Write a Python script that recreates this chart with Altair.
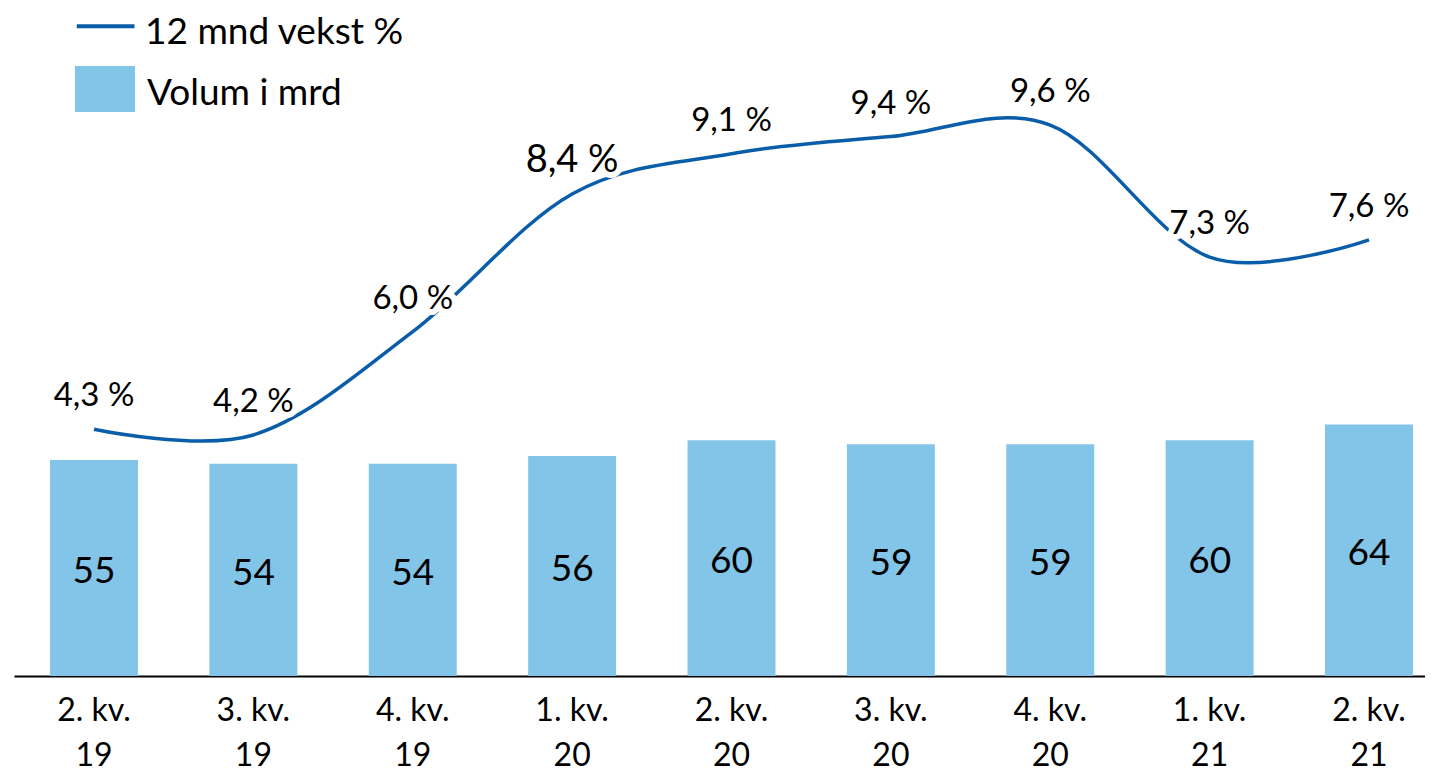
import altair as alt
import pandas as pd

quarters = ["2. kv. 19", "3. kv. 19", "4. kv. 19", "1. kv. 20", "2. kv. 20",
            "3. kv. 20", "4. kv. 20", "1. kv. 21", "2. kv. 21"]
volum = [55, 54, 54, 56, 60, 59, 59, 60, 64]
vekst = [4.3, 4.2, 6.0, 8.4, 9.1, 9.4, 9.6, 7.3, 7.6]

LINE_NAME = "12 mnd vekst %"
BAR_NAME = "Volum i mrd"
BAR_COLOR = "#82C5E8"
LINE_COLOR = "#0A5DA8"
FONT = "Lato"

df = pd.DataFrame({
    "q": quarters,
    "vol": volum,
    "pct": vekst,
})
df["mid"] = df["vol"] / 2
df["pct_label"] = [f"{v:.1f}".replace(".", ",") + " %" for v in vekst]
df["line_series"] = LINE_NAME
df["bar_series"] = BAR_NAME

x = alt.X(
    "q:N", sort=quarters,
    scale=alt.Scale(paddingInner=0.448, paddingOuter=0.1507, align=0.75, round=False),
    axis=alt.Axis(
        title=None, labelAngle=0, ticks=False,
        labelExpr="[substring(datum.label, 0, 6), substring(datum.label, 7)]",
        labelFont=FONT, labelFontSize=32, labelColor="black",
        labelLineHeight=45, labelPadding=19,
        domainColor="black", domainWidth=2,
    ),
)

bar_scale = alt.Scale(domain=[0, 170])
line_scale = alt.Scale(domain=[0, 11.64])

base = alt.Chart(df)

bars = base.mark_bar().encode(
    x=x,
    y=alt.Y("vol:Q", scale=bar_scale, axis=None),
    fill=alt.Fill(
        "bar_series:N",
        scale=alt.Scale(domain=[BAR_NAME], range=[BAR_COLOR]),
        legend=alt.Legend(
            title=None, orient="none", legendX=61, legendY=56, padding=0,
            symbolType="M-1,-0.934H1V0.6H-1Z", symbolSize=3600,
            symbolStrokeWidth=0, symbolOpacity=1,
            labelFont=FONT, labelFontSize=37, labelColor="black", labelOffset=12,
            labelLimit=0,
        ),
    ),
)

bar_text = base.mark_text(font=FONT, fontSize=37, color="black", baseline="middle", dy=4).encode(
    x=x,
    y=alt.Y("mid:Q", scale=bar_scale, axis=None),
    text=alt.Text("vol:Q"),
)

line = base.mark_line(interpolate="cardinal", strokeWidth=3.5).encode(
    x=x,
    y=alt.Y("pct:Q", scale=line_scale, axis=None),
    stroke=alt.Stroke(
        "line_series:N",
        scale=alt.Scale(domain=[LINE_NAME], range=[LINE_COLOR]),
        legend=alt.Legend(
            title=None, orient="none", legendX=58, legendY=6, padding=0,
            symbolType="M-1,-0.45H3.2", symbolSize=756, symbolStrokeWidth=4,
            labelFont=FONT, labelFontSize=37, labelColor="black", labelOffset=36,
            labelLimit=0,
        ),
    ),
)

size_enc = alt.condition("datum.pct == 8.4", alt.value(38), alt.value(33))

halo = base.mark_text(font=FONT, baseline="middle", dy=-33, color="white",
                      stroke="white", strokeWidth=12, strokeJoin="round").encode(
    x=x,
    y=alt.Y("pct:Q", scale=line_scale, axis=None),
    text="pct_label:N",
    size=size_enc,
)

line_text = base.mark_text(font=FONT, baseline="middle", dy=-33, color="black").encode(
    x=x,
    y=alt.Y("pct:Q", scale=line_scale, axis=None),
    text="pct_label:N",
    size=size_enc,
)

chart = alt.layer(bars, bar_text, line, halo, line_text).resolve_scale(
    y="independent"
).properties(
    width=1411, height=668,
    padding={"left": 6, "top": 0, "right": 0, "bottom": 0},
).configure_view(stroke=None)

chart.save("out.html", embed_options={"renderer": "svg", "actions": False})
